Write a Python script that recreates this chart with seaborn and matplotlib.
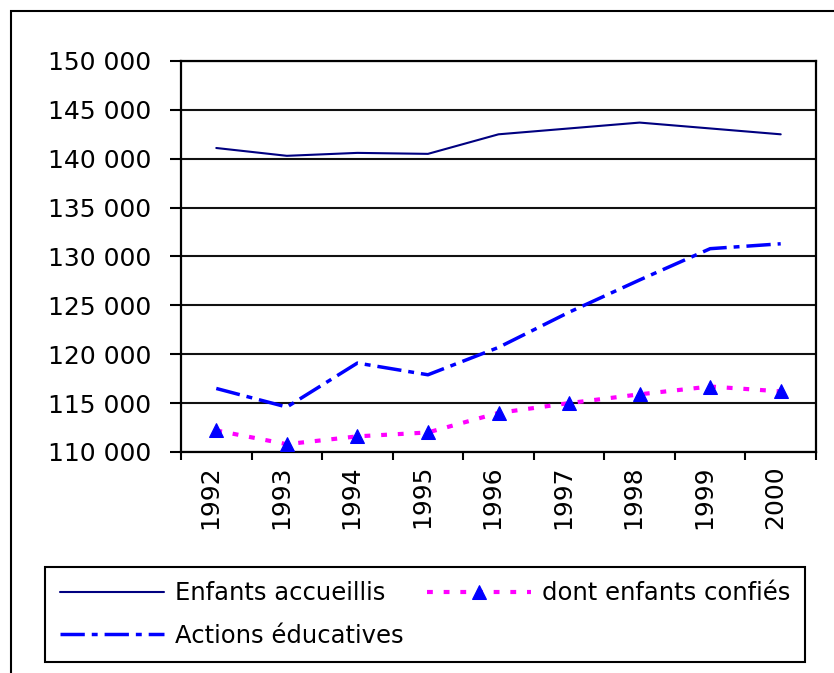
import numpy as np
import pandas as pd
import matplotlib
matplotlib.use("Agg")
import matplotlib.pyplot as plt
import matplotlib.transforms as mtransforms
from matplotlib.patches import Rectangle
from matplotlib.ticker import FuncFormatter, FixedLocator
import seaborn as sns

# Données
annees = [1992, 1993, 1994, 1995, 1996, 1997, 1998, 1999, 2000]
enfants_accueillis = [141100, 140300, 140600, 140500, 142500, 143100, 143700, 143100, 142500]
actions_educatives = [116500, 114600, 119100, 117900, 120700, 124300, 127600, 130800, 131300]
enfants_confies = [112200, 110800, 111600, 112000, 114000, 115000, 115900, 116700, 116200]

sns.set_theme(style="white")
plt.rcParams['font.family'] = ['DejaVu Sans']
plt.rcParams['text.color'] = 'black'

fig = plt.figure(figsize=(8.34, 6.73), dpi=100)
ax = fig.add_axes([181/834, 1 - 452/673, (816-181)/834, (452-61)/673])

df = pd.DataFrame({"annee": annees,
                   "accueillis": enfants_accueillis,
                   "actions": actions_educatives,
                   "confies": enfants_confies})

sns.lineplot(data=df, x="annee", y="accueillis", ax=ax, color="#000080", lw=1.5,
             label="Enfants accueillis", zorder=3)
sns.lineplot(data=df, x="annee", y="actions", ax=ax, color="#0000FF", lw=2.5,
             linestyle=(0, (7, 2, 1.7, 2)), label="Actions éducatives", zorder=3)
sns.lineplot(data=df, x="annee", y="confies", ax=ax, color="#FF00FF", lw=3,
             linestyle=(0, (1.4, 2.6)), marker="^", markersize=10,
             markerfacecolor="#0000FF", markeredgecolor="#0000FF",
             label="dont enfants confiés", zorder=4)

ax.set_xlim(1991.5, 2000.5)
ax.set_ylim(110000, 150000)
ax.set_yticks(np.arange(110000, 150001, 5000))
ax.yaxis.set_major_formatter(FuncFormatter(lambda v, p: f"{int(v):,}".replace(",", " ")))
ax.set_xticks(annees)
ax.set_xticklabels([str(a) for a in annees], rotation=90, va="top", ha="center")
ax.xaxis.set_minor_locator(FixedLocator(np.arange(1991.5, 2001, 1)))
ax.set_xlabel("")
ax.set_ylabel("")

ax.yaxis.grid(True, color="#111111", lw=1.5)
ax.set_axisbelow(True)
for s in ax.spines.values():
    s.set_visible(True)
    s.set_color("black")
    s.set_linewidth(1.6)

ax.tick_params(axis="y", which="major", left=True, length=8, width=1.5, pad=13.5,
               labelsize=18, colors="black")
ax.tick_params(axis="x", which="major", bottom=True, length=0, pad=9.4, labelsize=18,
               colors="black")
ax.tick_params(axis="x", which="minor", bottom=True, length=6, width=1.5, color="black")

offset = mtransforms.ScaledTranslation(-6/100, 0, fig.dpi_scale_trans)
for lab in ax.get_xticklabels():
    lab.set_transform(lab.get_transform() + offset)

leg = ax.legend(loc="center", ncol=2, mode="expand",
                bbox_to_anchor=(45/834, 1 - 667/673, 760/834, 105/673),
                bbox_transform=fig.transFigure, borderaxespad=0,
                fontsize=17.5, handlelength=4.3, handletextpad=0.45,
                labelspacing=0.75, borderpad=0.6, fancybox=False,
                framealpha=1, edgecolor="black", labelcolor="black")
leg.get_frame().set_linewidth(1.5)

# cadre autour de la figure
fig.add_artist(Rectangle((11/834, -0.1), 1.0, 1 - 11/673 + 0.1, transform=fig.transFigure,
                         fill=False, lw=1.5, edgecolor="black", clip_on=False))

fig.savefig("out.png", dpi=100)
